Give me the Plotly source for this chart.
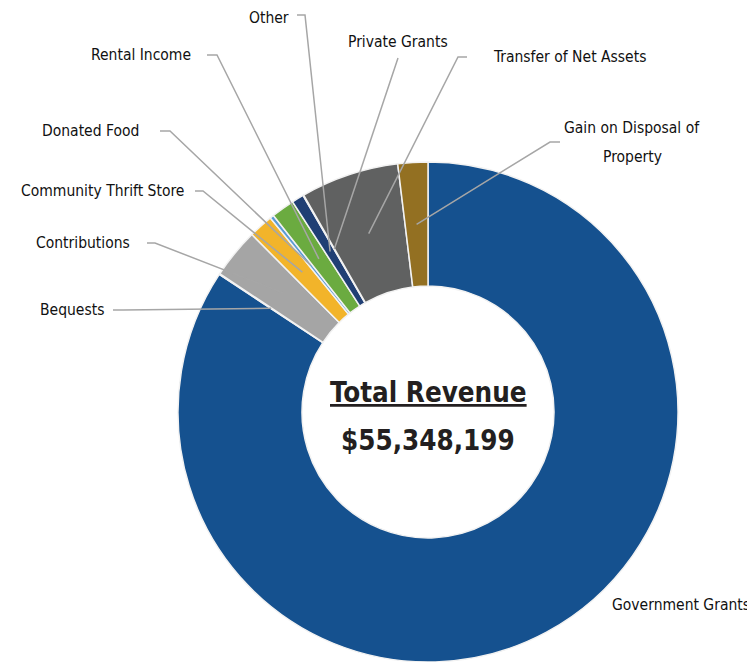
import math
import plotly.graph_objects as go

# ---- data ----
categories = [
    "Government Grants", "Bequests", "Contributions", "Community Thrift Store",
    "Donated Food", "Rental Income", "Other", "Private Grants",
    "Transfer of Net Assets", "Gain on Disposal of Property",
]
revenue = [46645499, 27700, 1790000, 876000, 138000, 830000, 430000, 27000, 3514000, 1070000]
colors = ["#15518F", "#ED7D31", "#A5A5A5", "#F2B42A", "#5B9BD5", "#6BAB40",
          "#203F74", "#9E480E", "#606161", "#937022"]
total_title = "Total Revenue"
total_label = "$55,348,199"

# ---- layout (page pixel geometry) ----
PAGE_W, PAGE_H = 755, 662
OFF = 8                      # default body margin of the html page
W, H = PAGE_W - OFF, PAGE_H - OFF
CX, CY, R = 428, 412, 250    # donut centre / radius in page pixels
HOLE = 0.504
RM = R * (1 + HOLE) / 2      # leader lines end at mid-ring

# label text: (x, y, xanchor), leader start point, elbow point (None = no leader)
label_layout = {
    "Government Grants": ((752, 605, "right"), None, None),
    "Bequests": ((106, 310, "right"), (113, 310), (123, 310)),
    "Contributions": ((132, 243, "right"), (147, 243), (155, 243)),
    "Community Thrift Store": ((186, 191, "right"), (195, 191), (203, 191)),
    "Donated Food": ((141, 131, "right"), (160, 131), (170, 131)),
    "Rental Income": ((193, 55, "right"), (207, 55), (217, 55)),
    "Other": ((291, 18, "right"), (297, 15), (305, 15)),
    "Private Grants": ((398, 42, "center"), (398, 58), (398, 58)),
    "Transfer of Net Assets": ((491, 57, "left"), (467, 57), (458, 57)),
    "Gain on Disposal of Property": ((632, 128, "center"), (560, 142), (550, 142)),
}


def px(x):
    return (x - OFF) / W


def py(y):
    return 1 - (y - OFF) / H


fig = go.Figure(go.Pie(
    labels=categories,
    values=revenue,
    sort=False,
    direction="clockwise",
    rotation=0,
    hole=HOLE,
    textinfo="none",
    hoverinfo="label+value+percent",
    marker=dict(colors=colors, line=dict(color="#F2F2F2", width=1.5)),
    domain=dict(x=[(CX - OFF - R) / W, (CX - OFF + R) / W],
                y=[0, min(1.0, (PAGE_H - CY + R) / H)]),
    showlegend=False,
))

font_family = "Liberation Sans Narrow, DejaVu Sans Condensed, Arial Narrow, sans-serif"
LBL = dict(family=font_family, size=15.5, color="#111111")
tot = sum(revenue)
cum = 0
shapes = []
annotations = []
for cat, v in zip(categories, revenue):
    mid = 2 * math.pi * (cum + v / 2) / tot
    cum += v
    (tx, ty, anchor), start, elbow = label_layout[cat]
    if cat == "Gain on Disposal of Property":
        annotations.append(dict(x=px(tx), y=py(ty), xref="paper", yref="paper",
                                text="Gain on Disposal of", showarrow=False,
                                xanchor="center", yanchor="middle", font=LBL))
        annotations.append(dict(x=px(tx), y=py(ty + 29), xref="paper", yref="paper",
                                text="Property", showarrow=False,
                                xanchor="center", yanchor="middle", font=LBL))
    else:
        annotations.append(dict(x=px(tx), y=py(ty), xref="paper", yref="paper",
                                text=cat, showarrow=False,
                                xanchor=anchor, yanchor="middle", font=LBL))
    if start is not None:
        ex = CX + RM * math.sin(mid)
        ey = CY - RM * math.cos(mid)
        path = "M {} {} L {} {} L {} {}".format(px(start[0]), py(start[1]),
                                                px(elbow[0]), py(elbow[1]),
                                                px(ex), py(ey))
        shapes.append(dict(type="path", path=path, xref="paper", yref="paper",
                           line=dict(color="#A6A6A6", width=1.5)))

annotations.append(dict(x=px(CX), y=py(392), xref="paper", yref="paper",
                        text="<b>" + total_title + "</b>", showarrow=False,
                        xanchor="center", yanchor="middle",
                        font=dict(family=font_family, size=27.5, color="#231f20",
                                  lineposition="under")))
annotations.append(dict(x=px(CX), y=py(440), xref="paper", yref="paper",
                        text="<b>" + total_label + "</b>", showarrow=False,
                        xanchor="center", yanchor="middle",
                        font=dict(family=font_family, size=27.5, color="#231f20")))

fig.update_layout(
    width=W, height=H,
    margin=dict(l=0, r=0, t=0, b=0),
    paper_bgcolor="white",
    plot_bgcolor="white",
    shapes=shapes,
    annotations=annotations,
)

fig.write_html("out.html")
